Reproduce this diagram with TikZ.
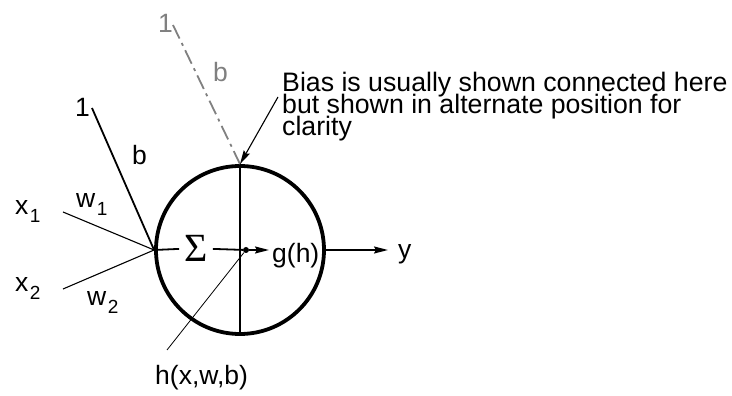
\documentclass[tikz,border=0pt]{standalone}
\usepackage{fontspec}
\setmainfont{Liberation Sans}
\newfontfamily\sigmafont{Liberation Serif}
\usetikzlibrary{arrows.meta}
\newcommand{\subidx}[1]{\kern1.5pt\raisebox{-0.3em}{\fontsize{19}{19}\selectfont #1}}
\newcommand{\tightlines}{\fontsize{26.7}{22}\selectfont\lineskiplimit-50pt\relax}

\begin{document}
\begin{tikzpicture}[
  x=1pt, y=1pt,
  font=\fontsize{26.5}{22}\selectfont,
  lbl/.style={inner sep=0pt, anchor=base west},
  thinline/.style={line width=1.1pt},
  medline/.style={line width=1.8pt},
  tip/.style={-{Stealth[length=14pt,width=7pt,inset=2pt]}},
  >=Stealth
]
  \useasboundingbox (-240,-146) rectangle (492,250);

  \node[circle, draw, line width=3.8pt, minimum size=168pt, inner sep=0pt] (neuron) at (0,0) {};
  \draw[medline] (neuron.north) -- (neuron.south);

  \node[inner sep=5pt, anchor=base, font=\sigmafont\fontsize{40}{40}\selectfont] (sum) at (-44,-12) {Σ};
  \node[circle, fill, inner sep=0pt, minimum size=6pt] (dot) at (6,0) {};
  \node[lbl, inner sep=3pt] (gh) at (29,-13) {g(h)};
  \node[lbl, inner sep=10pt] (yout) at (148,-9) {y};

  \draw[medline] (neuron.west) -- (sum.west);
  \draw[medline] (sum.east) -- (dot);
  \draw[medline, tip] (dot) -- (dot -| gh.west);
  \draw[medline, tip] (neuron.east) -- (yout.west |- neuron.east);

  \node[lbl] (x1) at (-225,35) {x\subidx{1}};
  \node[lbl] (x2) at (-225,-42) {x\subidx{2}};
  \node[lbl] (w1) at (-164,42) {w\subidx{1}};
  \node[lbl] (w2) at (-153,-56) {w\subidx{2}};
  \coordinate (x1end) at (-177,38);
  \coordinate (x2end) at (-177,-39);
  \draw[thinline] (x1end) -- (neuron.west);
  \draw[thinline] (x2end) -- (neuron.west);

  \node[lbl] (one) at (-165,133) {1};
  \node[lbl] (bias) at (-108,85) {b};
  \coordinate (oneend) at (-148,142);
  \draw[medline] (oneend) -- (neuron.west);

  \node[lbl, text=gray] (altone) at (-82,217) {1};
  \node[lbl, text=gray] (altbias) at (-27,168) {b};
  \coordinate (altoneend) at (-67,225);
  \draw[medline, gray, dash pattern=on 15pt off 5pt on 3pt off 5pt] (altoneend) -- (neuron.north);

  \node[lbl, align=left, font=\tightlines] (note) at (42,114)
    {Bias is usually shown connected here\\but shown in alternate position for\\clarity};
  \coordinate (notetail) at (38,153);
  \draw[thinline, tip] (notetail) -- (neuron.north);

  \node[lbl] (hlabel) at (-85,-135) {h(x,w,b)};
  \coordinate (hend) at (-73,-100);
  \draw[line width=0.8pt] (hend) -- (dot);
\end{tikzpicture}
\end{document}
